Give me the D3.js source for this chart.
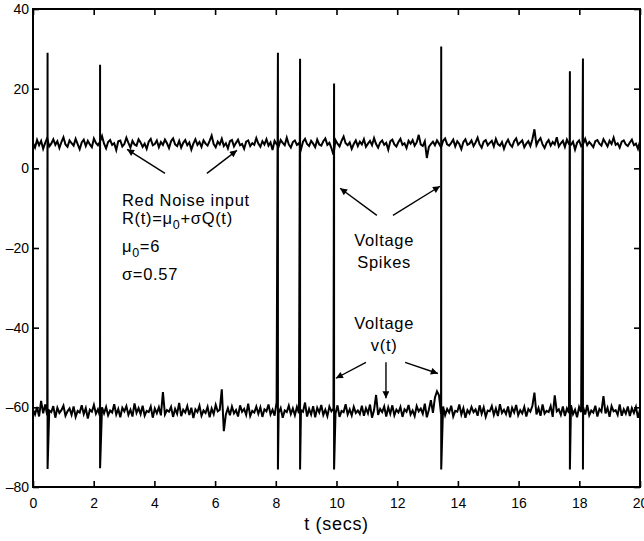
<!DOCTYPE html>
<html><head><meta charset="utf-8">
<script src="https://cdn.jsdelivr.net/npm/d3@7"></script>
<style>body{margin:0;background:#fff} svg text{font-family:"Liberation Sans",Arial,Helvetica,sans-serif;fill:#000}</style>
</head><body><svg id="c" width="644" height="541"></svg>
<script>
const xTicks=[0,2,4,6,8,10,12,14,16,18,20];
const yTicks=[-80,-60,-40,-20,0,20,40];
const spikeTimes=[0.48,2.21,8.07,8.80,9.92,13.45,17.69,18.12];
const spikePeaks=[29,26,29,27.5,21.3,30.6,24.4,27.6];
const spikeResets=[-75.5,-75.3,-75.6,-75.6,-75.6,-75.6,-75.6,-75.6];
const noiseR=[
6.3,5.2,7.1,5.8,6.9,4.9,6.4,7.6,5.5,6.2,7.3,5.9,6.8,5.1,6.6,7.8,6.0,5.4,7.0,6.3,
5.7,7.4,6.1,4.8,6.5,7.2,5.6,6.9,6.0,5.3,7.5,6.4,5.8,6.7,8.1,6.2,5.0,6.6,7.1,5.9,
6.3,4.6,6.8,7.0,5.5,6.1,7.7,6.4,5.2,6.9,6.0,5.7,7.3,6.5,5.4,6.2,4.9,6.7,7.4,5.8,
6.1,7.0,5.3,6.6,5.9,7.2,6.3,5.1,6.8,7.5,6.0,5.6,6.9,5.2,6.4,7.1,5.8,6.5,4.7,6.2,
7.3,5.9,6.6,5.4,7.0,6.2,5.7,6.9,8.2,6.1,5.3,6.7,6.0,7.4,5.6,6.3,5.0,6.8,7.1,5.5,
6.4,7.2,5.8,6.1,4.9,6.7,7.0,5.6,6.3,5.9,7.6,6.2,5.4,6.8,6.0,7.3,5.7,6.5,4.6,6.9,
6.1,5.5,7.1,6.4,5.8,7.7,6.0,5.2,6.6,7.0,5.9,6.3,4.8,6.7,7.4,6.1,5.6,6.9,6.2,5.3,
7.2,6.0,5.7,6.8,7.5,5.9,6.4,5.1,3.4,7.1,6.2,5.5,6.9,8.0,6.3,5.8,6.5,4.9,6.1,7.0,
5.6,6.7,6.0,7.3,5.4,6.2,6.9,5.8,7.6,6.1,5.2,6.5,7.0,5.9,6.4,4.7,6.8,7.2,6.0,5.5,
6.6,7.4,5.9,6.3,5.1,6.9,6.2,7.1,5.7,6.5,8.4,6.0,5.6,6.8,2.6,5.4,6.1,6.7,5.8,7.0,
6.2,5.3,6.9,7.5,6.0,5.7,6.4,7.2,5.5,6.8,6.1,4.8,6.6,7.3,5.9,6.2,7.0,5.6,6.5,7.7,
6.0,5.2,6.7,7.1,5.8,6.4,6.9,5.5,7.4,6.1,5.7,6.6,4.9,6.3,7.2,6.0,5.4,6.8,7.5,5.9,
6.5,7.0,5.3,6.2,6.8,5.6,7.3,9.8,5.8,6.9,7.6,6.0,5.1,6.4,7.1,5.7,6.6,6.0,7.8,5.5,
6.3,6.9,5.4,7.2,6.1,5.9,6.7,4.7,6.4,7.0,5.6,6.2,7.4,5.8,6.6,6.0,5.3,6.8,7.1,6.2,
5.7,7.3,6.4,5.5,6.9,6.1,7.7,5.9,6.3,5.2,6.7,7.0,6.0,5.6,6.5,7.2,5.8,6.2,4.9,6.8];
const noiseV=[
-60.6,-61.8,-59.9,-62.3,-58.4,-61.5,-59.3,-62.0,-60.8,-61.2,-59.7,-62.6,-60.1,-61.4,-60.7,-59.6,-62.1,-61.0,-60.3,-61.9,
-59.8,-62.4,-60.9,-61.3,-59.5,-61.7,-60.2,-62.8,-60.6,-61.1,-59.4,-61.6,-60.5,-62.2,-60.0,-61.5,-59.9,-62.0,-60.8,-61.3,
-59.2,-61.8,-60.4,-62.5,-60.1,-61.0,-59.7,-61.9,-60.6,-62.3,-59.0,-61.4,-60.2,-61.7,-59.6,-62.1,-60.9,-61.2,-59.8,-62.6,
-60.3,-61.5,-60.0,-62.0,-56.2,-61.8,-60.7,-61.1,-59.9,-62.4,-60.4,-61.6,-58.9,-62.2,-60.6,-61.3,-59.7,-61.9,-60.1,-62.7,
-60.5,-61.2,-59.6,-62.1,-60.8,-61.4,-59.9,-62.5,-60.3,-61.7,-59.4,-61.0,-60.6,-55.5,-66.0,-61.8,-60.2,-62.0,-59.8,-61.5,
-60.7,-62.3,-59.5,-61.1,-60.4,-61.9,-59.1,-62.2,-60.9,-61.3,-59.8,-61.6,-60.0,-62.4,-60.5,-61.0,-59.3,-61.8,-60.6,-62.1,
-58.7,-61.4,-60.2,-62.6,-60.8,-61.2,-59.6,-61.7,-60.3,-62.0,-59.9,-61.5,-60.7,-61.1,-58.8,-62.3,-60.4,-61.8,-59.7,-62.5,
-60.1,-61.3,-59.4,-61.9,-60.6,-62.2,-59.8,-61.0,-60.3,-61.6,-59.5,-62.4,-60.9,-61.2,-59.2,-61.8,-60.5,-62.0,-59.9,-61.4,
-60.8,-61.7,-59.6,-62.1,-60.2,-61.5,-59.3,-62.6,-60.7,-56.9,-61.9,-60.4,-61.2,-59.8,-62.3,-60.0,-61.6,-59.5,-62.0,-60.6,
-61.3,-59.9,-62.4,-60.5,-61.1,-59.4,-61.8,-60.8,-62.2,-59.7,-61.0,-60.3,-61.6,-59.1,-62.5,-60.6,-58.2,-61.4,-57.5,-56.0,
-57.0,-61.7,-59.8,-62.0,-60.4,-61.3,-59.6,-62.3,-60.9,-61.1,-59.3,-61.8,-60.2,-62.6,-60.7,-61.5,-59.9,-61.2,-60.5,-62.1,
-59.5,-61.6,-60.0,-62.4,-60.8,-61.0,-59.7,-61.9,-60.3,-62.2,-59.2,-61.4,-60.6,-61.7,-59.8,-62.5,-60.1,-61.3,-59.4,-62.0,
-60.7,-61.5,-59.9,-62.3,-60.4,-61.1,-59.6,-56.3,-61.8,-60.2,-62.1,-59.3,-61.6,-60.9,-61.2,-59.7,-62.4,-57.0,-61.0,-60.5,
-61.9,-59.8,-62.2,-60.3,-61.4,-59.5,-61.7,-60.6,-62.5,-59.9,-61.2,-60.0,-61.8,-59.4,-62.0,-60.8,-61.3,-59.6,-62.3,-60.4,
-61.1,-57.2,-61.5,-60.1,-62.4,-59.7,-61.0,-60.7,-61.9,-59.3,-62.1,-60.5,-61.6,-59.8,-62.2,-60.2,-61.4,-59.9,-62.6,-60.6];
const tMax=20;

const svg=d3.select("#c");
const x=d3.scaleLinear().domain([0,20]).range([33,640]);
const y=d3.scaleLinear().domain([-80,40]).range([487,9]);
const dt=tMax/(noiseR.length-1);

const rPts=noiseR.map((v,i)=>[i*dt,v]);
const vPts=[];
let k=0;
noiseV.forEach((v,i)=>{
  const t=i*dt;
  while(k<spikeTimes.length&&spikeTimes[k]<=t){
    vPts.push([spikeTimes[k],spikePeaks[k]]);
    vPts.push([spikeTimes[k],spikeResets[k]]);
    k++;
  }
  vPts.push([t,v]);
});
const line=d3.line().x(d=>x(d[0])).y(d=>y(d[1]));
svg.append("path").attr("d",line(rPts)).attr("fill","none").attr("stroke","#000").attr("stroke-width",2).attr("stroke-linejoin","miter");
svg.append("path").attr("d",line(vPts)).attr("fill","none").attr("stroke","#000").attr("stroke-width",2).attr("stroke-linejoin","miter");

const fmt=d=>d<0?"\u2013"+Math.abs(d):String(d);
const axStyle=g=>{g.select(".domain").remove();g.selectAll("line").attr("stroke","#000").attr("stroke-width",1.6);g.selectAll("text").attr("font-size",14).attr("font-family","Liberation Sans, Arial, sans-serif");};
svg.append("g").attr("transform",`translate(0,${y(-80)})`).call(d3.axisBottom(x).tickValues(xTicks).tickSize(-6).tickPadding(11).tickFormat(fmt)).call(axStyle);
svg.append("g").attr("transform",`translate(0,${y(40)})`).call(d3.axisTop(x).tickValues(xTicks).tickSize(-6).tickFormat("")).call(axStyle);
svg.append("g").attr("transform",`translate(${x(0)},0)`).call(d3.axisLeft(y).tickValues(yTicks).tickSize(-6).tickPadding(4).tickFormat(fmt)).call(axStyle);
svg.append("g").attr("transform",`translate(${x(20)},0)`).call(d3.axisRight(y).tickValues(yTicks).tickSize(-6).tickFormat("")).call(axStyle);
svg.append("rect").attr("x",x(0)).attr("y",y(40)).attr("width",x(20)-x(0)).attr("height",y(-80)-y(40)).attr("fill","none").attr("stroke","#000").attr("stroke-width",2);

// arrows
svg.append("defs").append("marker").attr("id","ah").attr("viewBox","0 0 10 10").attr("refX",10).attr("refY",5)
 .attr("markerWidth",10).attr("markerHeight",7).attr("markerUnits","userSpaceOnUse").attr("orient","auto")
 .append("path").attr("d","M0,0L10,5L0,10Z").attr("fill","#000");
const arrows=[[4.35,-1.26,3.10,4.77],[5.73,-1.26,6.72,4.52],[11.33,-11.8,10.12,-5.0],[11.86,-11.8,13.41,-4.5],
 [10.97,-48.7,9.98,-52.7],[11.63,-48.7,11.63,-57.7],[12.26,-48.7,13.34,-51.5]];
svg.selectAll(".arr").data(arrows).join("line").attr("class","arr")
 .attr("x1",d=>x(d[0])).attr("y1",d=>y(d[1])).attr("x2",d=>x(d[2])).attr("y2",d=>y(d[3]))
 .attr("stroke","#000").attr("stroke-width",1.4).attr("marker-end","url(#ah)");

// annotation text
const fs=16.5, ls="0.7px";
const xa=x(2.93);
svg.append("text").attr("font-size",fs).attr("letter-spacing",ls).attr("x",xa).attr("y",y(-9.4)).text("Red Noise input");
const l2=svg.append("text").attr("font-size",fs).attr("letter-spacing",ls).attr("x",xa).attr("y",y(-14.0));
l2.append("tspan").text("R(t)=\u03bc");
l2.append("tspan").attr("dy",5).attr("font-size",12.5).text("0");
l2.append("tspan").attr("dy",-5).text("+\u03c3Q(t)");
const l3=svg.append("text").attr("font-size",fs).attr("letter-spacing",ls).attr("x",xa).attr("y",y(-21.1));
l3.append("tspan").text("\u03bc");
l3.append("tspan").attr("dy",5).attr("font-size",12.5).text("0");
l3.append("tspan").attr("dy",-5).text("=6");
svg.append("text").attr("font-size",fs).attr("letter-spacing",ls).attr("x",xa).attr("y",y(-28.1)).text("\u03c3=0.57");
const xc=x(11.57);
svg.append("text").attr("font-size",fs).attr("letter-spacing",ls).attr("x",xc).attr("y",y(-19.6)).attr("text-anchor","middle").text("Voltage");
svg.append("text").attr("font-size",fs).attr("letter-spacing",ls).attr("x",xc).attr("y",y(-25.1)).attr("text-anchor","middle").text("Spikes");
svg.append("text").attr("font-size",fs).attr("letter-spacing",ls).attr("x",xc).attr("y",y(-40.4)).attr("text-anchor","middle").text("Voltage");
svg.append("text").attr("font-size",fs).attr("letter-spacing",ls).attr("x",xc).attr("y",y(-45.9)).attr("text-anchor","middle").text("v(t)");
svg.append("text").attr("font-size",18).attr("letter-spacing",ls).attr("x",x(10)).attr("y",530).attr("text-anchor","middle").text("t (secs)");
</script></body></html>
